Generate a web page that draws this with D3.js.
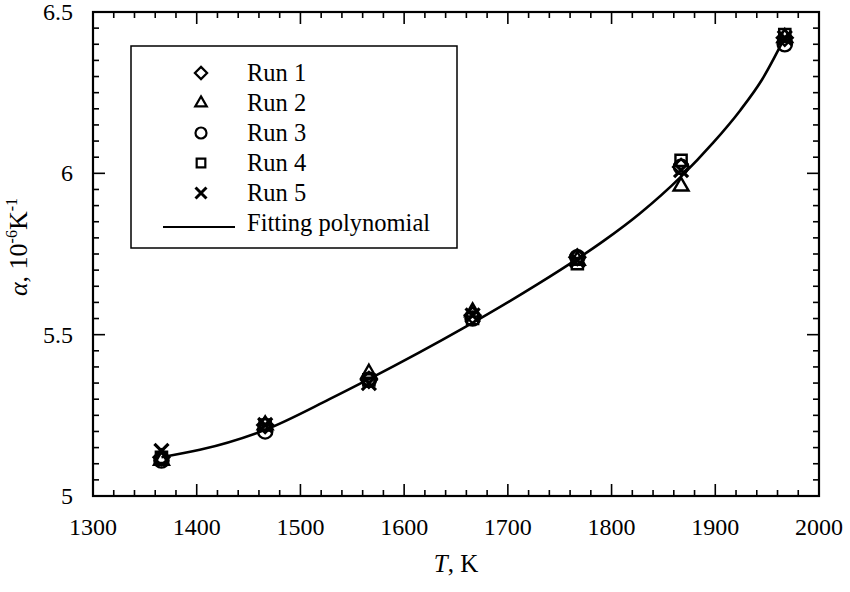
<!DOCTYPE html>
<html>
<head>
<meta charset="utf-8">
<script src="https://cdn.jsdelivr.net/npm/d3@7"></script>
<style>
body { margin:0; background:#fff; }
</style>
</head>
<body>
<svg id="graph" width="850" height="592" font-family="'Liberation Serif', 'Times New Roman', Times, 'DejaVu Serif', serif"></svg>
<script>
'use strict'

// temperatures (K) of the measurement points
var temps = [1366, 1466, 1566, 1666, 1767, 1867, 1967];
// thermal expansion, 10^-6 K^-1, one list per run
var run1 = [5.12, 5.22, 5.36, 5.56, 5.74, 6.02, 6.42];
var run2 = [5.11, 5.22, 5.38, 5.57, 5.73, 5.96, 6.42];
var run3 = [5.11, 5.20, 5.36, 5.55, 5.74, 6.02, 6.40];
var run4 = [5.12, 5.22, 5.36, 5.55, 5.72, 6.04, 6.43];
var run5 = [5.14, 5.22, 5.35, 5.56, 5.73, 6.01, 6.42];
var runNames = ['Run 1', 'Run 2', 'Run 3', 'Run 4', 'Run 5'];
// fitted curve
var fitT = [1366, 1403, 1466, 1528, 1566, 1657, 1728, 1767, 1792, 1827, 1867, 1898, 1924, 1945, 1966];
var fitA = [5.12, 5.143, 5.205, 5.30, 5.362, 5.52, 5.655, 5.735, 5.79, 5.875, 5.99, 6.095, 6.195, 6.29, 6.415];
var xTicks = [1300, 1400, 1500, 1600, 1700, 1800, 1900, 2000];
var yTicks = [5, 5.5, 6, 6.5];

var runs = [run1, run2, run3, run4, run5];
var shapes = [d3.symbolDiamond2, d3.symbolTriangle2, d3.symbolCircle, d3.symbolSquare2, d3.symbolX];

var pLeft = 93, pRight = 819, pTop = 12, pBottom = 496;
var x = d3.scaleLinear().domain([1300, 2000]).range([pLeft, pRight]);
var y = d3.scaleLinear().domain([5, 6.5]).range([pBottom, pTop]);

var svg = d3.select('#graph');

// minor ticks every 20 K and 0.05
var xMinor = d3.range(1300, 2001, 20);
var yMinor = d3.range(0, 31).map(function(i){ return 5 + i*0.05; });

function tickLen(isMajor){ return isMajor ? 12 : 6; }

var tg = svg.append('g').attr('stroke', '#000').attr('stroke-width', 1.6);
xMinor.forEach(function(v){
	var major = xTicks.indexOf(v) >= 0;
	tg.append('line').attr('x1', x(v)).attr('x2', x(v)).attr('y1', pBottom).attr('y2', pBottom - tickLen(major));
	tg.append('line').attr('x1', x(v)).attr('x2', x(v)).attr('y1', pTop).attr('y2', pTop + tickLen(major));
});
yMinor.forEach(function(v){
	var major = Math.abs(v*2 - Math.round(v*2)) < 1e-6;
	tg.append('line').attr('x1', pLeft).attr('x2', pLeft + tickLen(major)).attr('y1', y(v)).attr('y2', y(v));
	tg.append('line').attr('x1', pRight).attr('x2', pRight - tickLen(major)).attr('y1', y(v)).attr('y2', y(v));
});

svg.append('rect')
	.attr('x', pLeft).attr('y', pTop)
	.attr('width', pRight - pLeft).attr('height', pBottom - pTop)
	.attr('fill', 'none').attr('stroke', '#000').attr('stroke-width', 2.2);

// tick labels
svg.selectAll('.xl').data(xTicks).enter().append('text')
	.attr('x', function(d){ return x(d); })
	.attr('y', pBottom + 39)
	.attr('text-anchor', 'middle')
	.attr('font-size', 24)
	.text(function(d){ return d; });
svg.selectAll('.yl').data(yTicks).enter().append('text')
	.attr('x', pLeft - 20)
	.attr('y', function(d){ return y(d) + 8; })
	.attr('text-anchor', 'end')
	.attr('font-size', 24)
	.text(function(d){ return d; });

// axis titles
var xt = svg.append('text').attr('x', 456).attr('y', 572).attr('text-anchor', 'middle').attr('font-size', 25);
xt.append('tspan').attr('font-style', 'italic').text('T');
xt.append('tspan').text(', K');

var yt = svg.append('text')
	.attr('transform', 'translate(27,247) rotate(-90)')
	.attr('text-anchor', 'middle')
	.attr('font-size', 26);
yt.append('tspan').attr('font-style', 'italic').text('α');
yt.append('tspan').text(', 10');
yt.append('tspan').attr('font-size', 16).attr('dy', -10).text('-6');
yt.append('tspan').attr('dy', 10).text('K');
yt.append('tspan').attr('font-size', 16).attr('dy', -10).text('-1');

// fitted curve
var fitData = fitT.map(function(t, i){ return [t, fitA[i]]; });
svg.append('path')
	.datum(fitData)
	.attr('d', d3.line().x(function(d){ return x(d[0]); }).y(function(d){ return y(d[1]); }).curve(d3.curveMonotoneX))
	.attr('fill', 'none').attr('stroke', '#000').attr('stroke-width', 2.6);

// data markers
runs.forEach(function(r, k){
	var sym = d3.symbol().type(shapes[k]).size(k == 4 ? 130 : 160);
	svg.append('g').selectAll('path').data(r).enter().append('path')
		.attr('transform', function(d, i){ return 'translate(' + x(temps[i]) + ',' + y(d) + ')'; })
		.attr('d', sym)
		.attr('fill', 'none')
		.attr('stroke', '#000')
		.attr('stroke-width', k == 4 ? 3.2 : 2.4);
});

// legend
var lg = svg.append('g');
lg.append('rect').attr('x', 131).attr('y', 46).attr('width', 326).attr('height', 202)
	.attr('fill', '#fff').attr('stroke', '#000').attr('stroke-width', 1.5);
runNames.forEach(function(name, k){
	var ly = 73 + k*30;
	lg.append('path')
		.attr('transform', 'translate(201,' + ly + ')')
		.attr('d', d3.symbol().type(shapes[k]).size(k == 4 ? 80 : 95))
		.attr('fill', 'none').attr('stroke', '#000').attr('stroke-width', k == 4 ? 3 : 2.2);
	lg.append('text').attr('x', 247).attr('y', ly + 8).attr('font-size', 24.5).text(name);
});
lg.append('line').attr('x1', 163).attr('x2', 235).attr('y1', 227).attr('y2', 227)
	.attr('stroke', '#000').attr('stroke-width', 2);
lg.append('text').attr('x', 247).attr('y', 231).attr('font-size', 24.5).text('Fitting polynomial');
</script>
</body>
</html>
